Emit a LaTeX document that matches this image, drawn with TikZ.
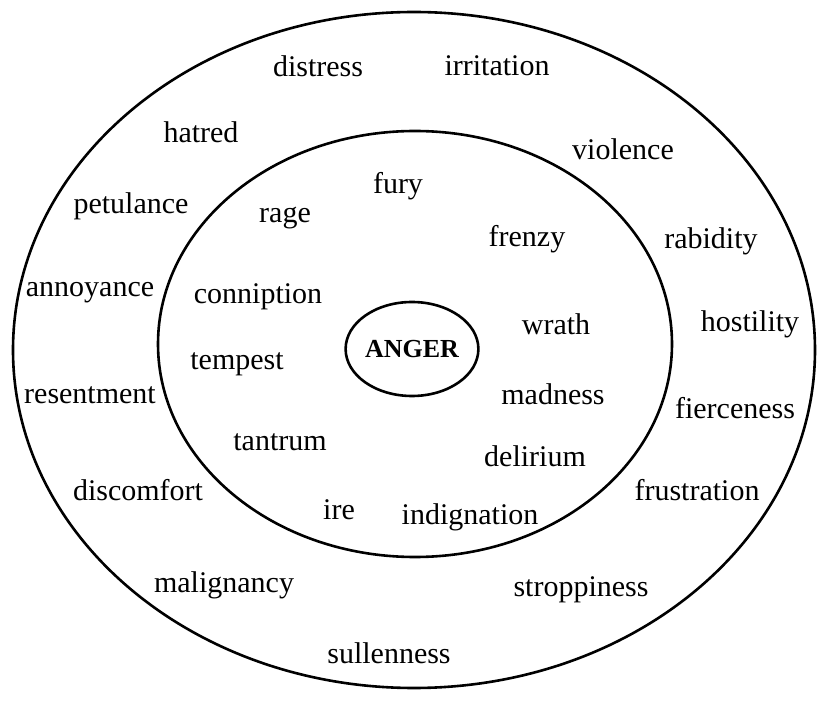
\documentclass[tikz,border=0pt]{standalone}
\usepackage{fontspec}
\setmainfont{Liberation Serif}
\usetikzlibrary{shapes.geometric}
\begin{document}
\begin{tikzpicture}[x=1pt,y=-1pt,
  ring/.style={draw=black,line width=2.6pt},
  word/.style={inner sep=0pt,font=\fontsize{30}{32}\selectfont,text height=21pt,text depth=3pt,anchor=center}]
\useasboundingbox (0,0) rectangle (823,703);
\fill[white] (0,0) rectangle (823,703);
\draw[ring] (414,350) ellipse [x radius=401, y radius=338];
\draw[ring] (415,344) ellipse [x radius=257, y radius=213];
\node[ring,ellipse,minimum width=122pt,minimum height=94pt,inner sep=0pt,font=\fontsize{26}{28}\selectfont\bfseries] (anger) at (412,349) {ANGER};
% outer ring words
\node[word] (distress) at (318,68) {distress};
\node[word] (irritation) at (497,67) {irritation};
\node[word] (hatred) at (201,134) {hatred};
\node[word] (violence) at (623,151) {violence};
\node[word] (petulance) at (131,205) {petulance};
\node[word] (rabidity) at (711,240) {rabidity};
\node[word] (annoyance) at (90,288) {annoyance};
\node[word] (hostility) at (750,323) {hostility};
\node[word] (resentment) at (90,395) {resentment};
\node[word] (fierceness) at (735,410) {fierceness};
\node[word] (discomfort) at (138,492) {discomfort};
\node[word] (frustration) at (697,492) {frustration};
\node[word] (malignancy) at (224,583) {malignancy};
\node[word] (stroppiness) at (581,587) {stroppiness};
\node[word] (sullenness) at (389,654) {sullenness};
% middle ring words
\node[word] (fury) at (398,185) {fury};
\node[word] (rage) at (285,214) {rage};
\node[word] (frenzy) at (527,238) {frenzy};
\node[word] (conniption) at (258,295) {conniption};
\node[word] (wrath) at (556,326) {wrath};
\node[word] (tempest) at (237,361) {tempest};
\node[word] (madness) at (553,396) {madness};
\node[word] (tantrum) at (280,442) {tantrum};
\node[word] (delirium) at (535,458) {delirium};
\node[word] (ire) at (339,510) {ire};
\node[word] (indignation) at (470,516) {indignation};
\end{tikzpicture}
\end{document}
